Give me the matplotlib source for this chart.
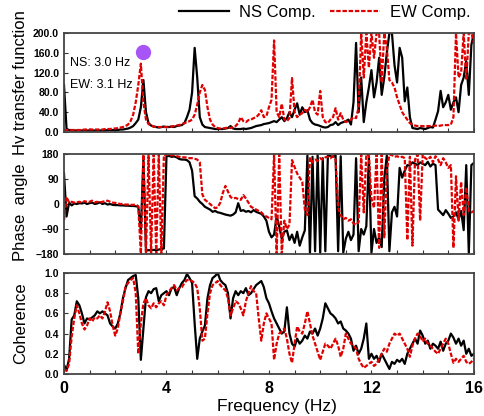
import numpy as np
import matplotlib
matplotlib.use("Agg")
import matplotlib.pyplot as plt
from matplotlib.ticker import MultipleLocator, FormatStrFormatter

plt.rcParams['font.family'] = ['Liberation Sans', 'DejaVu Sans']

# frequency grid, 0.1 Hz step
freq = np.round(np.arange(161) * 0.1, 1)

hv_ns = [
    95, 6, 4, 3, 3, 3, 3, 3, 3, 3,
    3, 3, 3, 3, 3, 3, 3, 4, 4, 4,
    4, 4, 5, 5, 6, 7, 9, 12, 18, 25,
    50, 105, 40, 18, 13, 11, 10, 9, 10, 11,
    10, 10, 11, 10, 12, 13, 14, 18, 30, 45,
    80, 170, 110, 30, 15, 10, 9, 8, 7, 6,
    6, 6, 6, 7, 8, 12, 7, 6, 6, 6,
    7, 6, 7, 8, 10, 12, 13, 14, 16, 17,
    18, 20, 22, 20, 25, 30, 22, 28, 40, 30,
    45, 58, 35, 50, 40, 44, 25, 18, 15, 14,
    12, 10, 9, 10, 14, 15, 20, 14, 18, 20,
    22, 25, 15, 60, 180, 40, 110, 20, 60, 90,
    125, 70, 100, 150, 75, 110, 160, 200, 200, 135,
    100, 170, 150, 62, 90, 30, 8, 7, 6, 8,
    7, 6, 8, 10, 9, 25, 42, 83, 50, 60,
    75, 45, 60, 70, 40, 95, 110, 143, 75, 176,
    200]
hv_ew = [
    3, 4, 4, 4, 4, 4, 4, 4, 5, 5,
    5, 5, 5, 5, 5, 5, 6, 6, 6, 7,
    7, 8, 9, 10, 12, 15, 22, 35, 60, 95,
    138, 60, 25, 16, 13, 11, 10, 10, 10, 10,
    10, 11, 11, 12, 13, 14, 16, 18, 20, 22,
    25, 35, 55, 80, 95, 85, 50, 25, 15, 10,
    8, 7, 7, 8, 9, 8, 10, 12, 18, 30,
    22, 20, 24, 25, 28, 30, 35, 44, 30, 32,
    50, 65, 185, 40, 30, 57, 25, 22, 28, 109,
    40, 30, 35, 38, 45, 40, 50, 65, 40, 35,
    83, 30, 20, 18, 25, 30, 48, 25, 38, 25,
    20, 22, 25, 30, 28, 50, 200, 110, 200, 130,
    200, 150, 200, 200, 100, 200, 170, 105, 100, 90,
    70, 55, 40, 32, 25, 18, 15, 13, 12, 12,
    12, 11, 12, 12, 12, 13, 12, 13, 14, 14,
    14, 15, 30, 200, 110, 120, 200, 105, 200, 200,
    180]

ph_ns = [
    110, -45, 5, -5, 2, 0, 3, 2, 5, 0,
    3, 5, 0, 2, 6, 0, 3, -2, 0, -3,
    -4, -4, -5, -5, -6, -6, -7, -7, -8, -10,
    -95, 165, -168, -166, -167, -165, -166, -164, -162, -160,
    172, 173, 170, 171, 168, 162, 160, 160, 158, 150,
    120, 28, 20, 8, 0, -10, -15, -20, -28, -25,
    -30, -32, -35, -38, -40, -42, -38, -30, 3, -25,
    -22, -28, -25, -30, -22, -28, -32, -35, -45, -60,
    -100, -120, -110, -45, -80, -125, -100, -95, -130, -110,
    -140, -100, -150, -120, -95, 175, -178, 170, -170, 178,
    -175, 165, -170, 175, 172, 170, 175, -170, 172, -175,
    -125, -100, -130, -110, 165, -170, -90, -110, -80, 170,
    -175, -90, -140, -120, -155, 90, 175, -170, -30, -10,
    -45, 130, 95, 120, 140, 138, 150, 145, 140, 150,
    145, 140, 152, 135, 145, 140, -20, -30, -40, -22,
    -35, -50, -45, -30, -55, -25, -94, 140, -178, 140,
    148]
ph_ew = [
    -58, 25, 5, 8, 5, 6, 8, 5, 10, 8,
    8, 12, 6, 8, 5, 8, 10, 12, 8, 5,
    4, 2, 0, 0, -2, -2, -3, -3, -2, -8,
    -178, 178, -178, 178, -178, 178, -178, 178, -178, 177,
    178, 177, 175, 176, 172, 170, 168, 168, 167, 165,
    165, 163, 160, 150, 35, 15, 8, 0, -8, -15,
    -12, 5, 40, 65, 45, 25, 20, 22, 18, 15,
    32, 20, 5, -10, -15, -20, -25, -30, -40, -45,
    -50, -55, 178, -178, 178, -178, -60, -90, -75, 158,
    133, 110, 95, 80, -20, -40, 165, 150, 160, 155,
    165, 160, 168, 170, 165, 172, 160, -14, -40, -55,
    -50, -60, -55, -70, -75, -65, 178, -30, 178, 175,
    20, -14, 178, -158, 178, -120, 120, 178, 176, 170,
    172, 168, 170, 165, -130, 170, -150, 160, 178, -60,
    178, 165, 160, 170, 150, 172, 160, 140, 165, 150,
    130, 140, -158, 100, -60, 80, -40, 60, -25, -30,
    -25]

coh_ns = [
    0.09, 0.04, 0.15, 0.54, 0.58, 0.72, 0.68, 0.60, 0.50, 0.55,
    0.54, 0.56, 0.58, 0.62, 0.60, 0.62, 0.60, 0.58, 0.50, 0.47,
    0.45, 0.50, 0.60, 0.75, 0.85, 0.93, 0.95, 0.97, 0.98, 0.75,
    0.14, 0.45, 0.76, 0.82, 0.80, 0.84, 0.85, 0.72, 0.78, 0.80,
    0.82, 0.78, 0.85, 0.86, 0.78, 0.85, 0.90, 0.93, 0.99, 0.95,
    0.90, 0.50, 0.15, 0.35, 0.42, 0.48, 0.75, 0.88, 0.95, 0.97,
    1.00, 0.93, 0.90, 0.88, 0.80, 0.55, 0.75, 0.82, 0.78, 0.82,
    0.80, 0.85, 0.78, 0.80, 0.84, 0.88, 0.90, 0.92, 0.86, 0.75,
    0.70, 0.62, 0.55, 0.50, 0.45, 0.40, 0.42, 0.66, 0.40, 0.30,
    0.27, 0.35, 0.30, 0.33, 0.38, 0.35, 0.42, 0.40, 0.45, 0.38,
    0.45, 0.55, 0.70, 0.65, 0.60, 0.58, 0.55, 0.50, 0.52, 0.45,
    0.43, 0.40, 0.35, 0.23, 0.28, 0.20, 0.25, 0.35, 0.50, 0.15,
    0.20, 0.15, 0.18, 0.12, 0.20, 0.15, 0.10, 0.05, 0.12, 0.10,
    0.14, 0.12, 0.15, 0.10, 0.20, 0.25, 0.30, 0.35, 0.30, 0.43,
    0.38, 0.30, 0.33, 0.25, 0.30, 0.28, 0.25, 0.32, 0.23, 0.30,
    0.33, 0.40, 0.36, 0.30, 0.35, 0.28, 0.33, 0.20, 0.25, 0.18,
    0.20]
coh_ew = [
    0.05, 0.03, 0.10, 0.37, 0.55, 0.68, 0.60, 0.50, 0.44, 0.48,
    0.55, 0.52, 0.56, 0.55, 0.58, 0.55, 0.62, 0.71, 0.62, 0.48,
    0.38, 0.45, 0.60, 0.72, 0.86, 0.90, 0.93, 0.95, 0.80, 0.20,
    0.50, 0.70, 0.75, 0.68, 0.65, 0.70, 0.66, 0.70, 0.72, 0.68,
    0.78, 0.82, 0.85, 0.88, 0.83, 0.85, 0.86, 0.90, 0.93, 0.93,
    0.92, 0.90, 0.85, 0.65, 0.33, 0.35, 0.60, 0.80, 0.88, 0.90,
    0.92, 0.88, 0.85, 0.83, 0.75, 0.58, 0.65, 0.72, 0.70, 0.65,
    0.58, 0.72, 0.80, 0.87, 0.82, 0.80, 0.55, 0.33, 0.50, 0.60,
    0.55, 0.50, 0.14, 0.30, 0.40, 0.42, 0.45, 0.35, 0.20, 0.11,
    0.30, 0.47, 0.42, 0.40, 0.50, 0.62, 0.50, 0.38, 0.30, 0.22,
    0.14, 0.22, 0.30, 0.28, 0.25, 0.30, 0.35, 0.28, 0.17, 0.25,
    0.40, 0.35, 0.30, 0.28, 0.25, 0.15, 0.10, 0.06, 0.08, 0.10,
    0.12, 0.08, 0.10, 0.15, 0.20, 0.25, 0.22, 0.30, 0.35, 0.40,
    0.38, 0.40, 0.35, 0.30, 0.25, 0.17, 0.28, 0.35, 0.40, 0.38,
    0.32, 0.35, 0.30, 0.28, 0.25, 0.22, 0.20, 0.25, 0.30, 0.35,
    0.30, 0.20, 0.11, 0.15, 0.12, 0.15, 0.18, 0.12, 0.10, 0.12,
    0.15]

peak_f = 3.08
peak_v = 161
peak_labels = ["NS: 3.0 Hz", "EW: 3.1 Hz"]

fig = plt.figure(figsize=(4.84, 4.16), dpi=100)
ax1 = fig.add_axes([0.1322, 0.6827, 0.847, 0.238])
ax2 = fig.add_axes([0.1322, 0.3894, 0.847, 0.2404])
ax3 = fig.add_axes([0.1322, 0.1010, 0.847, 0.2428])

ns_kw = dict(color='black', lw=1.6)
ew_kw = dict(color='#e00000', lw=1.6, ls=(0, (2, 0.8)))

ax1.plot(freq, hv_ns, label='NS Comp.', **ns_kw)
ax1.plot(freq, hv_ew, label='EW Comp.', **ew_kw)
ax2.plot(freq, ph_ns, **ns_kw)
ax2.plot(freq, ph_ew, **ew_kw)
ax3.plot(freq, coh_ns, **ns_kw)
ax3.plot(freq, coh_ew, **ew_kw)

ax1.plot([peak_f], [peak_v], 'o', color='#a855f7', ms=10, zorder=5)
ax1.text(0.22, 140, peak_labels[0], fontsize=9, va='center')
ax1.text(0.22, 94, peak_labels[1], fontsize=9, va='center')

ax1.set_ylim(0, 200)
ax1.yaxis.set_major_locator(MultipleLocator(40))
ax1.yaxis.set_major_formatter(FormatStrFormatter('%.1f'))
ax2.set_ylim(-180, 180)
ax2.set_yticks([-180, -90, 0, 90, 180])
ax3.set_ylim(0, 1)
ax3.yaxis.set_major_locator(MultipleLocator(0.2))
ax3.yaxis.set_major_formatter(FormatStrFormatter('%.1f'))

for ax in (ax1, ax2, ax3):
    ax.set_xlim(0, 16)
    ax.xaxis.set_major_locator(MultipleLocator(4))
    ax.xaxis.set_minor_locator(MultipleLocator(1))
    ax.tick_params(which='both', direction='in', length=3, width=0.8,
                   colors='#333333', labelcolor='black', labelsize=7.5)
    for lab in ax.get_yticklabels():
        lab.set_fontweight('bold')
    for s in ax.spines.values():
        s.set_color('#444444')
        s.set_linewidth(1.3)
    if ax is not ax3:
        ax.tick_params(axis='x', labelbottom=False)
ax3.tick_params(axis='x', labelsize=11.5, pad=5)
for lab in ax3.get_xticklabels():
    lab.set_fontweight('bold')

ax1.set_ylabel('Hv transfer function', fontsize=12)
ax2.set_ylabel('Phase  angle', fontsize=12)
ax3.set_ylabel('Coherence', fontsize=12)
for ax in (ax1, ax2, ax3):
    ax.yaxis.set_label_coords(-0.088, 0.5)
ax2.yaxis.set_label_coords(-0.088, 0.42)
ax3.set_xlabel('Frequency (Hz)', fontsize=12.5)
ax3.xaxis.set_label_coords(0.52, -0.245)

fig.legend(loc='center right', bbox_to_anchor=(0.973, 0.971), ncol=2,
           frameon=False, fontsize=12, handlelength=3.0, columnspacing=0.9,
           handletextpad=0.6, borderpad=0, borderaxespad=0)

fig.savefig('out.png', dpi=100)
